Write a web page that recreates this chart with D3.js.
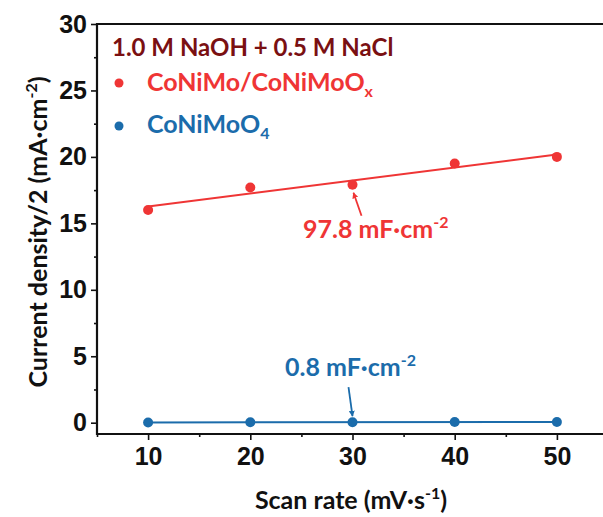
<!DOCTYPE html>
<html><head><meta charset="utf-8">
<script src="https://cdn.jsdelivr.net/npm/d3@7/dist/d3.min.js"></script>
<style>body{margin:0;background:#fff}svg{display:block}</style></head>
<body>
<script>
// ---- data ----
const scanRates = [10, 20, 30, 40, 50];
const redValues = [16.0, 17.7, 17.9, 19.5, 20.0];      // CoNiMo/CoNiMoOx
const blueValues = [0.02, 0.03, 0.04, 0.05, 0.055];    // CoNiMoO4
const xTicks = [10, 20, 30, 40, 50];
const xMinorTicks = [5, 15, 25, 35, 45];
const yTicks = [0, 5, 10, 15, 20, 25, 30];
const yMinorTicks = [2.5, 7.5, 12.5, 17.5, 22.5, 27.5];
const redCap = "97.8";
const blueCap = "0.8";

const W = 603, H = 517;
const RED = "#ef3535", BLUE = "#1b6cab", DARKRED = "#7a1012";
const TEXTFONT = "Lato, 'Open Sans', sans-serif";
const TICKFONT = "'Liberation Sans', Arial, sans-serif";

const svg = d3.select("body").append("svg").attr("width", W).attr("height", H);

const x = d3.scaleLinear().domain([5, 55]).range([97, 608]);
const y = d3.scaleLinear().domain([-0.85, 30]).range([434, 24]);

// axes
const gx = svg.append("g").attr("transform", `translate(0,${y(-0.85)})`)
  .call(d3.axisBottom(x).tickValues(xTicks).tickSize(6).tickPadding(7).tickFormat(d3.format("d")));
const gxm = svg.append("g").attr("transform", `translate(0,${y(-0.85)})`)
  .call(d3.axisBottom(x).tickValues(xMinorTicks).tickSize(3).tickFormat(""));
const gy = svg.append("g").attr("transform", `translate(${x(5)},0)`)
  .call(d3.axisLeft(y).tickValues(yTicks).tickSize(6).tickPadding(4).tickFormat(d3.format("d")));
const gym = svg.append("g").attr("transform", `translate(${x(5)},0)`)
  .call(d3.axisLeft(y).tickValues(yMinorTicks).tickSize(3).tickFormat(""));
[gx, gxm, gy, gym].forEach(g => {
  g.select(".domain").remove();
  g.selectAll(".tick line").attr("stroke", "#111").attr("stroke-width", 1.6);
  g.selectAll(".tick text").attr("font-family", TICKFONT).attr("font-weight", "bold")
    .attr("font-size", 25).attr("fill", "#111");
});

// frame (right edge outside view)
svg.append("path")
  .attr("d", `M${x(55)},${y(30)}H${x(5)}V${y(-0.85)}H${x(55)}`)
  .attr("fill", "none").attr("stroke", "#111").attr("stroke-width", 2.2);

// regression helper
function fit(xs, ys) {
  const mx = d3.mean(xs), my = d3.mean(ys);
  let sxy = 0, sxx = 0;
  xs.forEach((v, i) => { sxy += (v - mx) * (ys[i] - my); sxx += (v - mx) ** 2; });
  const b = sxy / sxx, a = my - b * mx;
  return v => a + b * v;
}

function series(vals, color) {
  const f = fit(scanRates, vals);
  const ends = [scanRates[0], scanRates[scanRates.length - 1]];
  svg.append("line")
    .attr("x1", x(ends[0])).attr("y1", y(f(ends[0])))
    .attr("x2", x(ends[1])).attr("y2", y(f(ends[1])))
    .attr("stroke", color).attr("stroke-width", 2);
  svg.append("g").selectAll("circle").data(vals).join("circle")
    .attr("cx", (d, i) => x(scanRates[i])).attr("cy", d => y(d))
    .attr("r", 5).attr("fill", color);
}
series(redValues, RED);
series(blueValues, BLUE);

// arrow markers
function marker(id, color) {
  svg.append("defs").append("marker").attr("id", id)
    .attr("viewBox", "0 0 10 10").attr("refX", 9).attr("refY", 5)
    .attr("markerWidth", 6).attr("markerHeight", 6).attr("orient", "auto")
    .attr("markerUnits", "userSpaceOnUse")
    .append("path").attr("d", "M0,0L10,5L0,10z").attr("fill", color);
}
marker("ar", RED); marker("ab", BLUE);

// red annotation
const rx = x(scanRates[2]), ry = y(redValues[2]);
svg.append("line").attr("x1", rx + 9).attr("y1", ry + 31).attr("x2", rx + 1).attr("y2", ry + 8)
  .attr("stroke", RED).attr("stroke-width", 1.8).attr("marker-end", "url(#ar)");
const rt = svg.append("text").attr("x", 303).attr("y", 238)
  .attr("font-family", TEXTFONT).attr("font-weight", "bold").attr("font-size", 25).attr("fill", RED);
rt.append("tspan").text(redCap + " mF·cm");
rt.append("tspan").attr("dy", -10).attr("font-size", 16).text("-2");

// blue annotation
const bx = x(scanRates[2]), by = y(blueValues[2]);
svg.append("line").attr("x1", bx - 4).attr("y1", by - 35).attr("x2", bx).attr("y2", by - 6)
  .attr("stroke", BLUE).attr("stroke-width", 1.8).attr("marker-end", "url(#ab)");
const bt = svg.append("text").attr("x", 285).attr("y", 376)
  .attr("font-family", TEXTFONT).attr("font-weight", "bold").attr("font-size", 25).attr("fill", BLUE);
bt.append("tspan").text(blueCap + " mF·cm");
bt.append("tspan").attr("dy", -10).attr("font-size", 16).text("-2");

// legend
svg.append("text").attr("x", 112).attr("y", 56)
  .attr("font-family", TEXTFONT).attr("font-weight", "bold").attr("font-size", 24).attr("fill", DARKRED)
  .text("1.0 M NaOH + 0.5 M NaCl");
svg.append("circle").attr("cx", 119).attr("cy", 83).attr("r", 4.5).attr("fill", RED);
const l1 = svg.append("text").attr("x", 147).attr("y", 91)
  .attr("font-family", TEXTFONT).attr("font-weight", "bold").attr("font-size", 25).attr("fill", RED);
l1.append("tspan").text("CoNiMo/CoNiMoO");
l1.append("tspan").attr("dy", 6).attr("font-size", 16).text("x");
svg.append("circle").attr("cx", 119).attr("cy", 126).attr("r", 4.5).attr("fill", BLUE);
const l2 = svg.append("text").attr("x", 147).attr("y", 133)
  .attr("font-family", TEXTFONT).attr("font-weight", "bold").attr("font-size", 25).attr("fill", BLUE);
l2.append("tspan").text("CoNiMoO");
l2.append("tspan").attr("dy", 6).attr("font-size", 16).text("4");

// axis titles
const xt = svg.append("text").attr("x", 351).attr("y", 509).attr("text-anchor", "middle")
  .attr("font-family", TEXTFONT).attr("font-weight", "bold").attr("font-size", 25).attr("fill", "#111");
xt.append("tspan").text("Scan rate (mV·s");
xt.append("tspan").attr("dy", -10).attr("font-size", 16).text("-1");
xt.append("tspan").attr("dy", 10).text(")");

const yt = svg.append("text").attr("transform", "translate(47,232) rotate(-90)").attr("text-anchor", "middle")
  .attr("font-family", TEXTFONT).attr("font-weight", "bold").attr("font-size", 25).attr("fill", "#111");
yt.append("tspan").text("Current density/2 (mA·cm");
yt.append("tspan").attr("dy", -10).attr("font-size", 16).text("-2");
yt.append("tspan").attr("dy", 10).text(")");
</script>
</body></html>
